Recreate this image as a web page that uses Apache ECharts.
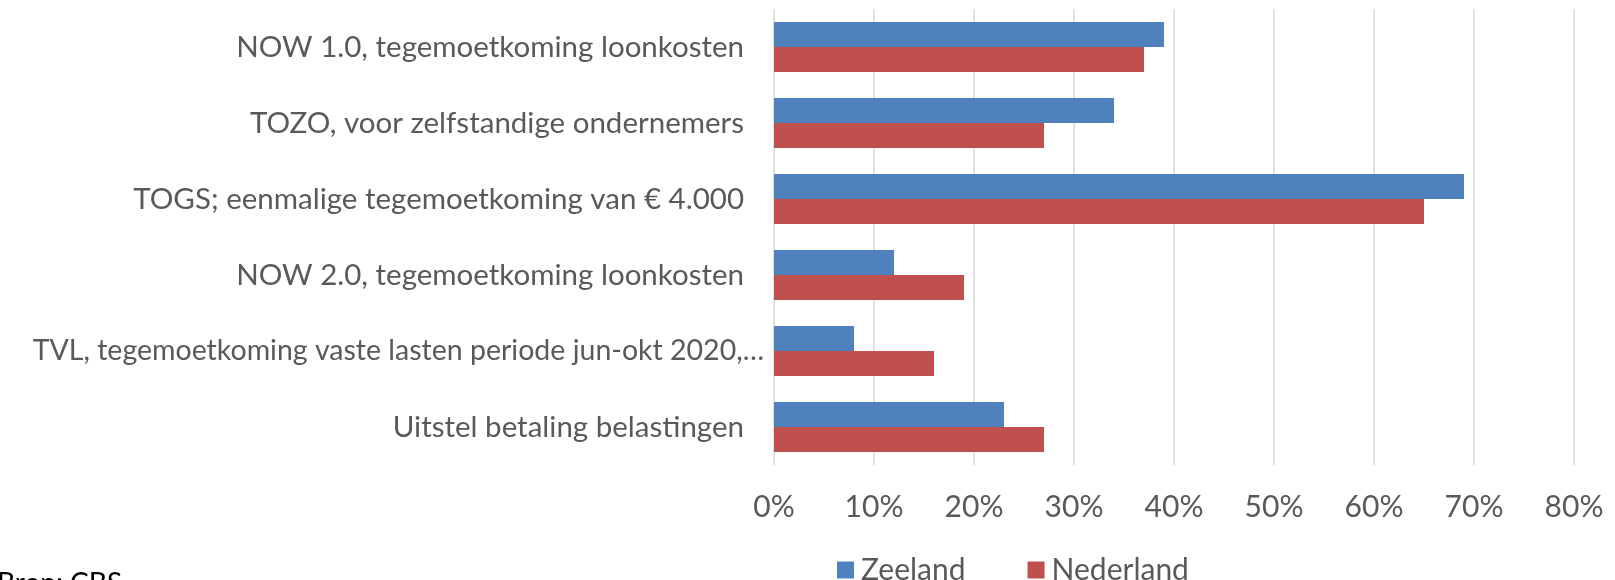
<!DOCTYPE html>
<html>
<head>
<meta charset="UTF-8">
<title>Steunmaatregelen Zeeland</title>
<script src="https://cdn.jsdelivr.net/npm/echarts@6/dist/echarts.min.js"></script>
<style>
  html, body { margin: 0; padding: 0; background: #fff; }
  #chart { width: 1615px; height: 580px; }
</style>
</head>
<body>
<div id="chart"></div>
<script type="text/javascript">
// categorieen, van boven naar onder
var categories = [
  'NOW 1.0, tegemoetkoming loonkosten',
  'TOZO, voor zelfstandige ondernemers',
  'TOGS; eenmalige tegemoetkoming van € 4.000',
  'NOW 2.0, tegemoetkoming loonkosten',
  'TVL, tegemoetkoming vaste lasten periode jun-okt 2020,…',
  'Uitstel betaling belastingen'
];
var zeeland = [39, 34, 69, 12, 8, 23];
var nederland = [37, 27, 65, 19, 16, 27];
var seriesNames = ['Zeeland', 'Nederland'];
var xMin = 0, xMax = 80, xStep = 10;
var source = 'Bron: CBS';

var labelColor = '#595959';
var font = 'Lato';

var chart = echarts.init(document.getElementById('chart'));
var option = {
  animation: false,
  textStyle: { fontFamily: font },
  grid: { left: 774, right: 41, top: 9, bottom: 115, containLabel: false },
  legend: {
    data: seriesNames,
    left: 832,
    top: 550,
    itemWidth: 17,
    itemHeight: 17,
    itemGap: 62,
    icon: 'rect',
    textStyle: { fontFamily: font, fontSize: 30, color: labelColor, padding: [0, 0, 0, 2] }
  },
  xAxis: {
    type: 'value',
    min: xMin,
    max: xMax,
    interval: xStep,
    axisLine: { show: false },
    axisTick: { show: false },
    splitLine: { lineStyle: { color: '#d9d9d9', width: 1.5 } },
    axisLabel: {
      color: labelColor,
      fontFamily: font,
      fontSize: 30,
      margin: 27,
      formatter: function (v) { return v + '%'; }
    }
  },
  yAxis: {
    type: 'category',
    data: categories,
    inverse: true,
    axisLine: { show: false },
    axisTick: { show: false },
    axisLabel: {
      color: labelColor,
      fontFamily: font,
      fontSize: 29.5,
      margin: 30,
      formatter: function (v, i) {
        return i === 4 ? '{t|' + v + '}' : v;
      },
      rich: {
        t: { color: labelColor, fontFamily: font, fontSize: 28.5, padding: [0, -20, 0, 0] }
      }
    }
  },
  series: [
    {
      name: seriesNames[0],
      type: 'bar',
      data: zeeland,
      barWidth: 25,
      barGap: '0%',
      itemStyle: { color: '#4f81bd' }
    },
    {
      name: seriesNames[1],
      type: 'bar',
      data: nederland,
      barWidth: 25,
      barGap: '0%',
      itemStyle: { color: '#c0504d' }
    }
  ],
  graphic: [
    {
      type: 'text',
      left: -3,
      top: 570,
      style: { text: source, fontFamily: font, fontSize: 28, fill: '#000' }
    }
  ]
};
chart.setOption(option);
</script>
</body>
</html>
